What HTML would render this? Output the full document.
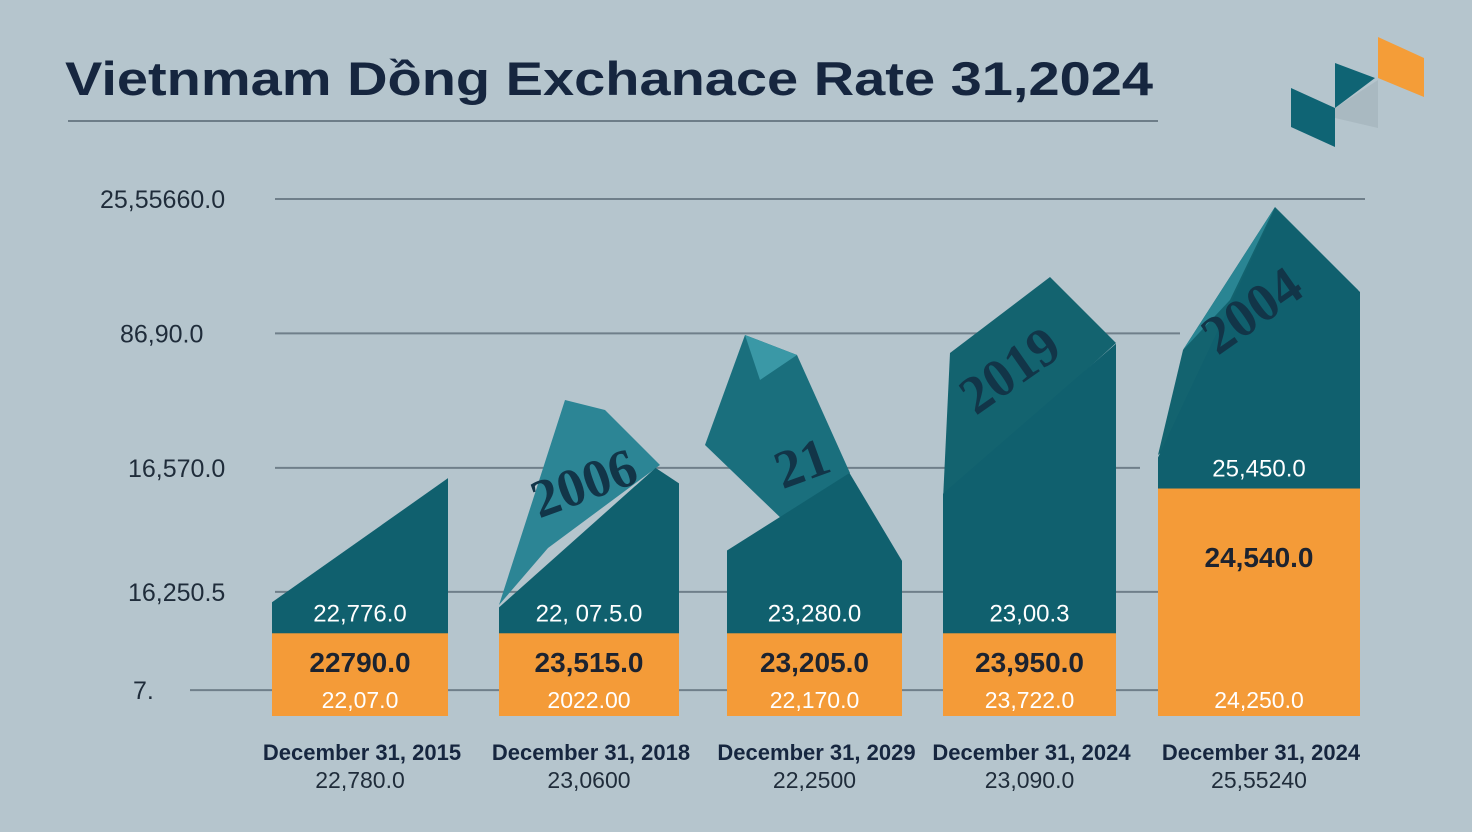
<!DOCTYPE html>
<html><head><meta charset="utf-8"><style>
html,body{margin:0;padding:0;}
body{width:1472px;height:832px;background:#b5c5cd;overflow:hidden;font-family:"Liberation Sans",sans-serif;}
svg{position:absolute;left:0;top:0;}
</style></head><body>
<svg id="chart" width="1472" height="832" viewBox="0 0 1472 832">
  <rect width="1472" height="832" fill="#b5c5cd"/>
  <text x="65" y="95" font-size="47" font-weight="bold" fill="#16263f" textLength="1088" lengthAdjust="spacingAndGlyphs">Vietnmam Dồng Exchanace Rate 31,2024</text>
  <line x1="68" y1="121" x2="1158" y2="121" stroke="#6d7d88" stroke-width="2"/>
  <g>
    <polygon points="1291,88 1335,108 1335,147 1291,127" fill="#0f6474"/>
    <polygon points="1335,63 1375,78 1335,108" fill="#0f6474"/>
    <polygon points="1335,108 1378,80 1378,128 1335,118" fill="#a9b9c1"/>
    <polygon points="1378,37 1424,58 1424,97 1378,78" fill="#f49d38"/>
  </g>
  <g id="grid"></g>
  <g id="bars"></g>
  <g id="labels"></g>
</svg>
<script>
const categories = ["December 31, 2015","December 31, 2018","December 31, 2029","December 31, 2024","December 31, 2024"];
const subValues = ["22,780.0","23,0600","22,2500","23,090.0","25,55240"];
const tealLabels = ["22,776.0","22, 07.5.0","23,280.0","23,00.3","25,450.0"];
const orangeLabels = ["22790.0","23,515.0","23,205.0","23,950.0","24,540.0"];
const bottomLabels = ["22,07.0","2022.00","22,170.0","23,722.0","24,250.0"];
const leftVals = [22, 21, 32, 43, 50];
const peakVals = [46, 48, 47, 72, 98];
const rightVals = [46, 45, 30, 72, 82];
const orangeVals = [16, 16, 16, 16, 44];
const yTickLabels = ["7.","16,250.5","16,570.0","86,90.0","25,55660.0"];
const yTickVals = [5, 24, 48, 74, 100];

const NS="http://www.w3.org/2000/svg";
const barX=[272,499,727,943,1158], barW=[176,180,175,173,202], peakFrac=[1,0.87,0.7,1,0.58];
const gridEnd=[1160,1160,1140,1180,1365], gridStart=[190,275,275,275,275], labelX=[133,128,128,120,100];
const y = v => 716 - v*5.17;
function mk(tag, attrs, parent){const e=document.createElementNS(NS,tag);for(const k in attrs)e.setAttribute(k,attrs[k]);parent.appendChild(e);return e;}
const grid=document.getElementById('grid'), bars=document.getElementById('bars'), labels=document.getElementById('labels');

yTickVals.forEach((v,i)=>{
  const l=mk('line',{x1:gridStart[i],x2:gridEnd[i],y1:y(v),y2:y(v),stroke:'#6f7f8a','stroke-width':2},grid);
  
  
  const t=mk('text',{x:labelX[i],y:y(v)+9,'font-size':25,fill:'#1f2c3a'},grid);
  t.textContent=yTickLabels[i];
  
  
});

const deco=[
  ["499,605 565,400 605,410 660,465 548,548","#2c8595"],
  ["705,445 745,335 797,355 850,473 785,522","#1a6f7d"],
  ["745,335 797,355 760,380","#3a98a6"],
  ["943,500 950,353 1050,277 1116,343","#13636f"],
  ["1158,455 1183,350 1275,207 1358,290","#13636f"],
  ["1183,350 1275,207 1230,300","#2a8593"]
];
deco.forEach(([p,c])=>{const e=mk('polygon',{points:p,fill:c},bars);
  
  });
const years=[["2006",590,500,-20],["21",808,480,-20],["2019",1020,385,-35],["2004",1262,325,-35]];

categories.forEach((c,i)=>{
  const x0=barX[i], x1=x0+barW[i], xp=x0+barW[i]*peakFrac[i];
  const teal=mk('polygon',{points:`${x0},716 ${x0},${y(leftVals[i])} ${xp},${y(peakVals[i])} ${x1},${y(rightVals[i])} ${x1},716`,fill:'#10606e'},bars);
  
  
  const or=mk('rect',{x:x0,y:y(orangeVals[i]),width:barW[i],height:716-y(orangeVals[i]),fill:'#f49b38'},bars);
  
  
  const cx=(x0+x1)/2;
  const tl=mk('text',{x:cx,y:y(orangeVals[i])-12,'text-anchor':'middle','font-size':24,fill:'#ffffff'},labels);
  tl.textContent=tealLabels[i];
  
  
  const ol=mk('text',{x:cx,y:i==4?567:672,'text-anchor':'middle','font-size':28,'font-weight':'bold',fill:'#1c2330'},labels);
  ol.textContent=orangeLabels[i];
  
  
  const bl=mk('text',{x:cx,y:708,'text-anchor':'middle','font-size':23,fill:'#ffffff'},labels);
  bl.textContent=bottomLabels[i];
  
  
  const cl=mk('text',{x:cx+2,y:760,'text-anchor':'middle','font-size':22,'font-weight':'bold',fill:'#16263f'},labels);
  cl.textContent=c;
  
  
  const sl=mk('text',{x:cx,y:788,'text-anchor':'middle','font-size':23,fill:'#1f2c3a'},labels);
  sl.textContent=subValues[i];
  
  
});
years.forEach(([t,x,yy,r])=>{const e=mk('text',{x:x,y:yy,'text-anchor':'middle','font-size':54,'font-family':'Liberation Serif','font-weight':'bold',fill:'#123548',transform:`rotate(${r} ${x} ${yy})`},labels);
  e.textContent=t;
  
  });
</script>
</body></html>
